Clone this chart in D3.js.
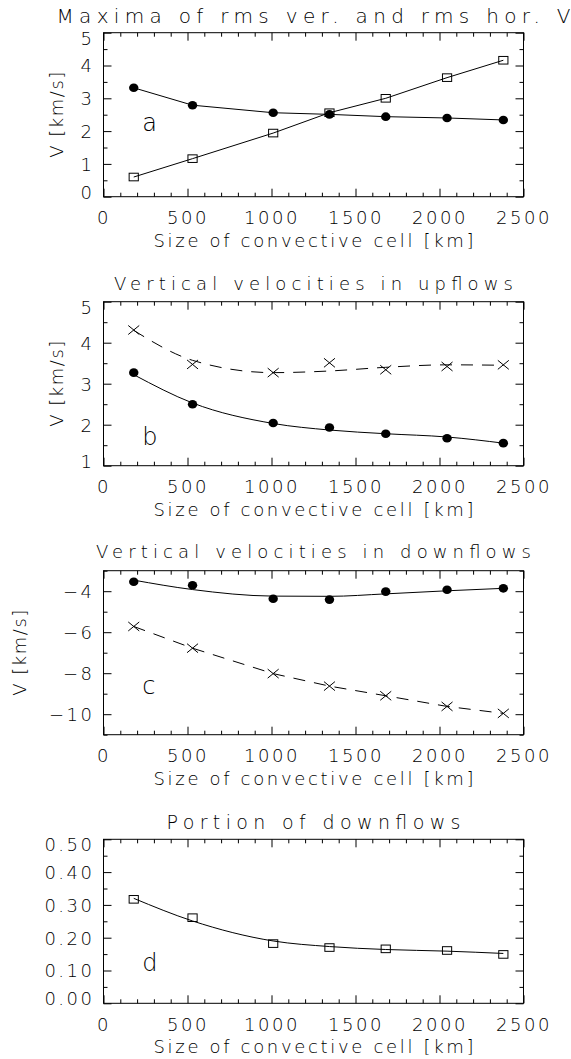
<!DOCTYPE html>
<html>
<head>
<meta charset="utf-8">
<script src="https://cdn.jsdelivr.net/npm/d3@7"></script>
<style>
  body { margin: 0; background: #fff; }
  svg { display: block; }
  text { font-weight: 200; }
</style>
</head>
<body>
<div id="chart"></div>
<script>
// cell sizes [km], same for every panel
const cellSize = [180, 530, 1010, 1345, 1680, 2045, 2380]

// a: maxima of rms velocities
const rmsCircle = [3.32, 2.79, 2.56, 2.51, 2.44, 2.40, 2.34]
const rmsSquare = [0.60, 1.16, 1.94, 2.56, 3.00, 3.63, 4.16]

// b: upflows
const upCross = [4.31, 3.47, 3.27, 3.51, 3.34, 3.42, 3.46]
const upCrossFit = [4.30, 3.57, 3.27, 3.31, 3.40, 3.46, 3.45]
const upCircle = [3.27, 2.50, 2.04, 1.93, 1.78, 1.67, 1.55]
const upCircleFit = [3.22, 2.53, 2.03, 1.87, 1.78, 1.70, 1.55]

// c: downflows
const downCircle = [-3.54, -3.71, -4.37, -4.41, -4.02, -3.93, -3.86]
const downCircleFit = [-3.46, -3.92, -4.24, -4.25, -4.13, -3.98, -3.86]
const downCross = [-5.72, -6.78, -8.02, -8.63, -9.10, -9.62, -9.96]

// d: portion of downflows
const portion = [0.317, 0.261, 0.182, 0.170, 0.166, 0.161, 0.149]
const portionFit = [0.320, 0.251, 0.190, 0.173, 0.164, 0.159, 0.152]

const titles = ['Maxima of rms ver. and rms hor. V', 'Vertical velocities in upflows',
    'Vertical velocities in downflows', 'Portion of downflows']
const letters = ['a', 'b', 'c', 'd']
const xMajor = [0, 500, 1000, 1500, 2000, 2500]

const width = 571
const height = 1059
const left = 103.5
const right = 523.5
const boxH = 164
const font = 'DejaVu Sans'

const zip = (xs, ys) => xs.map((x, i) => [x, ys[i]])

const panels = [
    {
        top: 32.7, yDomain: [0, 5], yMajor: [0, 1, 2, 3, 4, 5], yMinorStep: 0.5, fmt: d3.format('d'),
        titleSize: 20, titleLen: 514, titleDy: -10, ylabelX: 63, letterY: 2,
        series: [
            { pts: rmsCircle, line: rmsCircle, marker: 'circle' },
            { pts: rmsSquare, line: rmsSquare, marker: 'square' }
        ]
    },
    {
        top: 301.7, yDomain: [1, 5], yMajor: [1, 2, 3, 4, 5], yMinorStep: 0.5, fmt: d3.format('d'),
        titleSize: 18, titleLen: 399, titleDy: -11.7, ylabelX: 63, letterY: 1.5,
        series: [
            { pts: upCross, line: upCrossFit, marker: 'cross', dash: '12,9', curve: true },
            { pts: upCircle, line: upCircleFit, marker: 'circle', curve: true }
        ]
    },
    {
        top: 570.7, yDomain: [-11, -3], yMajor: [-10, -8, -6, -4], yMinorStep: 1, fmt: d3.format('d'),
        titleSize: 18, titleLen: 435, titleDy: -12.4, ylabelX: 26, letterY: -9, endNudge: false,
        series: [
            { pts: downCircle, line: downCircleFit, marker: 'circle', curve: true },
            { pts: downCross, line: downCross, marker: 'cross', dash: '12,9' }
        ]
    },
    {
        top: 839.3, yDomain: [0, 0.5], yMajor: [0, 0.1, 0.2, 0.3, 0.4, 0.5], yMinorStep: 0.05, fmt: d3.format('.2f'),
        titleSize: 19, titleLen: 294, titleDy: -10, ylabelX: null, letterY: 0.1,
        series: [
            { pts: portion, line: portionFit, marker: 'square', curve: true }
        ]
    }
]

const svg = d3.select('#chart').append('svg')
    .attr('width', width)
    .attr('height', height)
    .attr('style', 'background: #fff')

const x = d3.scaleLinear().domain([0, 2500]).range([left, right])
const xMinor = d3.range(0, 2501, 100).filter(v => v % 500 !== 0)

function styleAxis (g) {
    g.select('.domain').remove()
    g.selectAll('line').attr('stroke', '#000').attr('stroke-width', 1)
    g.attr('font-family', font).attr('font-size', 18)
}

panels.forEach((p, i) => {
    const top = p.top
    const bottom = top + boxH
    const y = d3.scaleLinear().domain(p.yDomain).range([bottom, top])
    const yMinor = d3.range(p.yDomain[0], p.yDomain[1] + 1e-9, p.yMinorStep)
        .filter(v => !p.yMajor.some(m => Math.abs(m - v) < 1e-9))

    const g = svg.append('g')

    // x axes (bottom labelled, top plain), ticks pointing inward
    g.append('g').attr('transform', `translate(0, ${bottom})`)
        .call(d3.axisBottom(x).tickValues(xMajor).tickSize(-8).tickFormat(d3.format('d')))
        .call(styleAxis)
        .selectAll('text')
        .attr('y', 27.5).attr('dy', 0)
        .attr('fill', '#000')
        .attr('letter-spacing', 2.5)
    g.append('g').attr('transform', `translate(0, ${bottom})`)
        .call(d3.axisBottom(x).tickValues(xMinor).tickSize(-4).tickFormat(''))
        .call(styleAxis)
    g.append('g').attr('transform', `translate(0, ${top})`)
        .call(d3.axisTop(x).tickValues(xMajor).tickSize(-8).tickFormat(''))
        .call(styleAxis)
    g.append('g').attr('transform', `translate(0, ${top})`)
        .call(d3.axisTop(x).tickValues(xMinor).tickSize(-4).tickFormat(''))
        .call(styleAxis)

    // y axes
    g.append('g').attr('transform', `translate(${left}, 0)`)
        .call(d3.axisLeft(y).tickValues(p.yMajor).tickSize(-8).tickFormat(p.fmt))
        .call(styleAxis)
        .selectAll('text')
        .attr('x', -9).attr('dy', '0.36em')
        .attr('fill', '#000')
        .attr('letter-spacing', 2.5)
        .attr('transform', d => {
            if (p.endNudge === false) return null
            if (d === p.yDomain[1]) return 'translate(0, 5)'
            if (d === p.yDomain[0]) return 'translate(0, -5)'
            return null
        })
    g.append('g').attr('transform', `translate(${left}, 0)`)
        .call(d3.axisLeft(y).tickValues(yMinor).tickSize(-4).tickFormat(''))
        .call(styleAxis)
    g.append('g').attr('transform', `translate(${right}, 0)`)
        .call(d3.axisRight(y).tickValues(p.yMajor).tickSize(-8).tickFormat(''))
        .call(styleAxis)
    g.append('g').attr('transform', `translate(${right}, 0)`)
        .call(d3.axisRight(y).tickValues(yMinor).tickSize(-4).tickFormat(''))
        .call(styleAxis)

    // box
    g.append('rect')
        .attr('x', left).attr('y', top)
        .attr('width', right - left).attr('height', boxH)
        .attr('fill', 'none').attr('stroke', '#000').attr('stroke-width', 1)

    // title
    g.append('text')
        .text(titles[i])
        .attr('x', (left + right) / 2)
        .attr('y', top + p.titleDy)
        .attr('text-anchor', 'middle')
        .attr('font-family', font).attr('font-size', p.titleSize)
        .attr('textLength', p.titleLen).attr('lengthAdjust', 'spacing')

    // x label
    g.append('text')
        .text('Size of convective cell [km]')
        .attr('x', (left + right) / 2)
        .attr('y', bottom + 50)
        .attr('text-anchor', 'middle')
        .attr('font-family', font).attr('font-size', 18)
        .attr('textLength', 320).attr('lengthAdjust', 'spacing')

    // y label
    if (p.ylabelX !== null) {
        g.append('text')
            .text('V [km/s]')
            .attr('transform', `translate(${p.ylabelX}, ${(top + bottom) / 2}) rotate(-90)`)
            .attr('text-anchor', 'middle')
            .attr('font-family', font).attr('font-size', 18)
            .attr('textLength', 86).attr('lengthAdjust', 'spacing')
    }

    // panel letter
    g.append('text')
        .text(letters[i])
        .attr('x', x(230))
        .attr('y', y(p.letterY))
        .attr('font-family', font).attr('font-size', 24)

    // series
    p.series.forEach(s => {
        const line = d3.line()
            .x(d => x(d[0]))
            .y(d => y(d[1]))
            .curve(s.curve ? d3.curveMonotoneX : d3.curveLinear)
        g.append('path')
            .attr('d', line(zip(cellSize, s.line)))
            .attr('fill', 'none')
            .attr('stroke', '#000')
            .attr('stroke-width', 1)
            .attr('stroke-dasharray', s.dash || null)

        const pts = zip(cellSize, s.pts)
        if (s.marker === 'circle') {
            g.selectAll(null).data(pts).enter().append('ellipse')
                .attr('cx', d => x(d[0])).attr('cy', d => y(d[1]))
                .attr('rx', 4.7).attr('ry', 4.3)
                .attr('fill', '#000')
        } else if (s.marker === 'square') {
            g.selectAll(null).data(pts).enter().append('rect')
                .attr('x', d => x(d[0]) - 4.6).attr('y', d => y(d[1]) - 3.8)
                .attr('width', 9.2).attr('height', 7.6)
                .attr('fill', 'none').attr('stroke', '#000').attr('stroke-width', 1)
        } else {
            g.selectAll(null).data(pts).enter().append('path')
                .attr('d', d => {
                    const cx = x(d[0])
                    const cy = y(d[1])
                    return `M${cx - 5.5},${cy - 4.5}L${cx + 5.5},${cy + 4.5}M${cx - 5.5},${cy + 4.5}L${cx + 5.5},${cy - 4.5}`
                })
                .attr('fill', 'none').attr('stroke', '#000').attr('stroke-width', 1)
        }
    })
})
</script>
</body>
</html>
